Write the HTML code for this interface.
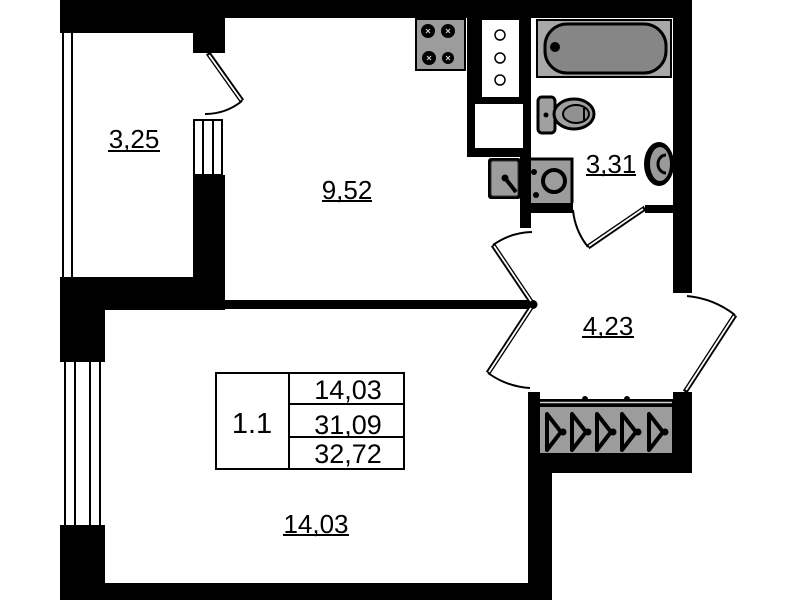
<!DOCTYPE html>
<html><head><meta charset="utf-8"><style>
html,body{margin:0;padding:0;background:#fff;}
svg{display:block;}
text{font-family:"Liberation Sans",Arial,sans-serif;fill:#000;}
</style></head><body>
<svg width="799" height="600" viewBox="0 0 799 600" xmlns="http://www.w3.org/2000/svg">
<rect width="799" height="600" fill="#fff"/>

<!-- bathroom wall sink -->
<ellipse cx="659" cy="164" rx="15" ry="22" fill="#000"/>
<ellipse cx="660" cy="164" rx="10" ry="17" fill="#9a9a9a"/>
<path d="M666 155 A8 9 0 1 0 666 173" fill="none" stroke="#000" stroke-width="3"/>

<g fill="#000">
<rect x="60" y="0" width="632" height="18"/>
<rect x="60" y="0" width="133" height="33"/>
<rect x="193" y="0" width="32" height="53"/>
<rect x="193" y="175" width="32" height="135"/>
<rect x="60" y="277" width="165" height="33"/>
<rect x="60" y="277" width="45" height="85"/>
<rect x="60" y="525" width="45" height="75"/>
<rect x="60" y="583" width="492" height="17"/>
<rect x="528" y="455" width="24" height="145"/>
<rect x="225" y="300" width="308" height="9"/>
<circle cx="533" cy="304.5" r="4.5"/>
<rect x="673" y="0" width="19" height="293"/>
<rect x="520" y="203" width="53" height="10"/>
<rect x="645" y="205" width="47" height="8"/>
<rect x="467" y="18" width="64" height="139"/>
<rect x="520" y="150" width="11" height="78"/>
<rect x="528" y="399" width="164" height="74"/>
<rect x="528" y="392" width="12" height="10"/>
<rect x="673" y="392" width="19" height="10"/>
<circle cx="585" cy="399" r="3"/>
<circle cx="627" cy="399" r="3"/>
</g>

<!-- closet inside -->
<line x1="540" y1="402.5" x2="672" y2="402.5" stroke="#cfcfcf" stroke-width="1.5"/>
<rect x="540" y="407" width="132" height="46" fill="#9c9c9c"/>
<g fill="none" stroke="#000" stroke-width="4" stroke-linejoin="round">
<path d="M547 414 L547 450 L561 432 Z"/>
<path d="M572 414 L572 450 L586 432 Z"/>
<path d="M597 414 L597 450 L611 432 Z"/>
<path d="M622 414 L622 450 L636 432 Z"/>
<path d="M649 414 L649 450 L663 432 Z"/>
</g>
<g fill="#000">
<circle cx="563" cy="432" r="3.5"/><circle cx="588" cy="432" r="3.5"/>
<circle cx="613" cy="432" r="3.5"/><circle cx="638" cy="432" r="3.5"/>
<circle cx="665" cy="432" r="3.5"/>
</g>

<!-- column white boxes -->
<rect x="482" y="20" width="37" height="77" fill="#fff"/>
<rect x="475" y="104" width="48" height="44" fill="#fff"/>
<g fill="#fff" stroke="#000" stroke-width="1.5">
<circle cx="500" cy="35" r="5"/><circle cx="500" cy="58" r="5"/><circle cx="500" cy="80" r="5"/>
</g>

<!-- stove -->
<rect x="416" y="19" width="49" height="51" fill="#9c9c9c" stroke="#000" stroke-width="2"/>
<g fill="#000"><circle cx="428" cy="31" r="7"/><circle cx="448" cy="31" r="7"/><circle cx="429" cy="58" r="7"/><circle cx="448" cy="58" r="6"/></g>
<g stroke="#ccc" stroke-width="1.2">
<path d="M426 29 L430 33 M430 29 L426 33"/><path d="M446 29 L450 33 M450 29 L446 33"/>
<path d="M427 56 L431 60 M431 56 L427 60"/><path d="M446 56 L450 60 M450 56 L446 60"/>
</g>

<!-- bath -->
<rect x="537" y="20" width="134" height="57" fill="#a8a8a8" stroke="#000" stroke-width="2"/>
<rect x="545" y="24" width="121" height="49" rx="22" fill="#868686" stroke="#000" stroke-width="3"/>
<circle cx="555" cy="47" r="5" fill="#000"/>

<!-- toilet -->
<rect x="538" y="97" width="17" height="36" rx="4" fill="#a0a0a0" stroke="#000" stroke-width="3"/>
<circle cx="546" cy="115" r="2.5" fill="#000"/>
<ellipse cx="574" cy="114" rx="20" ry="15" fill="#a0a0a0" stroke="#000" stroke-width="3"/>
<ellipse cx="576" cy="114" rx="13" ry="9" fill="#909090" stroke="#000" stroke-width="2"/>
<line x1="584" y1="108" x2="584" y2="120" stroke="#000" stroke-width="2"/>

<!-- washing machine -->
<rect x="531" y="158" width="42" height="45" fill="#9c9c9c"/>
<path d="M531 159 L572 159 L572 203" fill="none" stroke="#000" stroke-width="3"/>
<circle cx="554" cy="181" r="11" fill="#9c9c9c" stroke="#000" stroke-width="4"/>
<circle cx="534" cy="172" r="3" fill="#000"/><circle cx="536" cy="195" r="3" fill="#000"/>

<!-- kitchen sink -->
<rect x="488" y="158" width="33" height="41" rx="3" fill="#000"/>
<rect x="491" y="161" width="27" height="35" rx="2" fill="#9c9c9c" stroke="#333" stroke-width="1"/>
<line x1="505" y1="178" x2="516" y2="192" stroke="#000" stroke-width="4"/>
<circle cx="505" cy="178" r="3.5" fill="#000"/>

<!-- windows -->
<rect x="62" y="33" width="2" height="244" fill="#000"/>
<rect x="71" y="33" width="2" height="244" fill="#000"/>
<rect x="194" y="120" width="28" height="55" fill="#fff" stroke="#000" stroke-width="2"/>
<line x1="203" y1="120" x2="203" y2="175" stroke="#000" stroke-width="2"/>
<line x1="213" y1="120" x2="213" y2="175" stroke="#000" stroke-width="2"/>
<g fill="#000">
<rect x="64" y="362" width="2" height="163"/><rect x="74" y="362" width="2" height="163"/>
<rect x="89" y="362" width="2" height="163"/><rect x="99" y="362" width="2" height="163"/>
</g>

<!-- doors -->
<g stroke-linecap="butt">
<g stroke="#000" stroke-width="5">
<line x1="208" y1="53" x2="242" y2="101"/>
<line x1="645" y1="208" x2="588" y2="247"/>
<line x1="532" y1="303" x2="493" y2="245"/>
<line x1="532" y1="306" x2="488" y2="373"/>
<line x1="685" y1="392" x2="735" y2="315"/>
</g>
<g stroke="#fff" stroke-width="1.8">
<line x1="209" y1="55" x2="241" y2="100"/>
<line x1="643" y1="209" x2="589" y2="246"/>
<line x1="531" y1="301" x2="494" y2="246"/>
<line x1="531" y1="308" x2="489" y2="372"/>
<line x1="686" y1="390" x2="734" y2="316"/>
</g>
</g>
<g fill="none" stroke="#000" stroke-width="2">
<path d="M242 101 A59 59 0 0 1 205 114"/>
<path d="M588 247 A70 70 0 0 1 573 210"/>
<path d="M493 245 A70 70 0 0 1 532 232"/>
<path d="M488 373 A80 80 0 0 0 530 388"/>
<path d="M735 315 A92 92 0 0 0 687 296"/>
</g>

<!-- labels -->
<g font-size="26" text-anchor="middle">
<text x="134" y="148">3,25</text>
<text x="347" y="199">9,52</text>
<text x="611" y="173">3,31</text>
<text x="608" y="335">4,23</text>
<text x="316" y="533">14,03</text>
</g>
<g stroke="#000" stroke-width="2">
<line x1="108" y1="151" x2="160" y2="151"/>
<line x1="322" y1="201" x2="372" y2="201"/>
<line x1="586" y1="175" x2="636" y2="175"/>
<line x1="582" y1="337" x2="634" y2="337"/>
<line x1="283" y1="535" x2="349" y2="535"/>
</g>

<!-- table -->
<rect x="216" y="373" width="188" height="96" fill="none" stroke="#000" stroke-width="2"/>
<g stroke="#000" stroke-width="2">
<line x1="289" y1="373" x2="289" y2="469"/>
<line x1="289" y1="404" x2="404" y2="404"/>
<line x1="289" y1="437" x2="404" y2="437"/>
</g>
<text x="252" y="433" font-size="29" text-anchor="middle">1.1</text>
<g font-size="27" text-anchor="middle">
<text x="348" y="399">14,03</text>
<text x="348" y="434">31,09</text>
<text x="348" y="463">32,72</text>
</g>
</svg>
</body></html>
